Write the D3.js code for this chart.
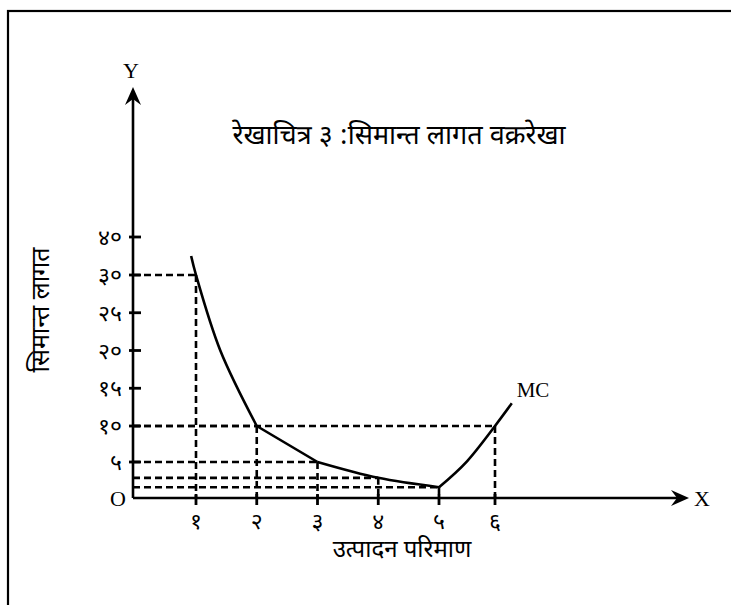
<!DOCTYPE html>
<html><head><meta charset="utf-8">
<script src="https://cdn.jsdelivr.net/npm/d3@7"></script>
<style>body{margin:0;background:#fff}</style>
</head><body>
<script>
// ---- data ----
const quantity = [1, 2, 3, 4, 5, 6];
const mcValues = [30, 10, 5, 2.8, 1.5, 10];
const xTickLabels = ["१", "२", "३", "४", "५", "६"];
const yTicks = [5, 10, 15, 20, 25, 30, 40];
const yTickLabels = ["५", "१०", "१५", "२०", "२५", "३०", "४०"];
const curveFalling = [[0.92, 35], [1, 30], [1.4, 20], [2, 10]];
const curveStep = [[2, 10], [3, 5]];
const curveFlat = [[3, 5], [4, 2.8], [5, 1.5]];
const curveRising = [[5, 1.5], [5.5, 5.1], [6, 10], [6.3, 13]];
const title = "रेखाचित्र ३ :सिमान्त लागत वक्ररेखा";
const xTitle = "उत्पादन परिमाण";
const yTitle = "सिमान्त लागत";
const curveLabel = "MC";

const W = 731, H = 605;
const deva = "'Noto Sans Devanagari','Lohit Devanagari','Noto Sans',sans-serif";
const serif = "'Liberation Serif','DejaVu Serif',serif";

const svg = d3.select("body").append("svg").attr("width", W).attr("height", H);

// frame
svg.append("rect").attr("x", 8).attr("y", 11).attr("width", 760).attr("height", 640)
  .attr("fill", "none").attr("stroke", "#000").attr("stroke-width", 2.2);

const x = d3.scaleLinear().domain([1, 5, 6]).range([196, 439, 495]);
const y = d3.scaleLinear().domain([0, 10, 30, 40]).range([498, 426, 275, 237]);
const x0 = 133, y0 = 498;

// dashed guides
const g = svg.append("g").attr("stroke", "#000").attr("stroke-width", 2.6)
  .attr("stroke-dasharray", "7,4").attr("fill", "none");
quantity.forEach((q, i) => {
  const v = mcValues[i];
  g.append("line").attr("x1", x0).attr("x2", x(q)).attr("y1", y(v)).attr("y2", y(v));
  g.append("line").attr("x1", x(q)).attr("x2", x(q)).attr("y1", y(v)).attr("y2", y0);
});

// axes
svg.append("line").attr("x1", x0).attr("y1", y0).attr("x2", 680).attr("y2", y0)
  .attr("stroke", "#000").attr("stroke-width", 2.6);
svg.append("line").attr("x1", x0).attr("y1", y0).attr("x2", x0).attr("y2", 96)
  .attr("stroke", "#000").attr("stroke-width", 2.6);
// arrowheads
svg.append("path").attr("d", "M689,498 L671,490 L677,498 L671,506 Z").attr("fill", "#000");
svg.append("path").attr("d", "M133,87 L125,105 L133,99 L141,105 Z").attr("fill", "#000");

// ticks
const tk = svg.append("g").attr("stroke", "#000").attr("stroke-width", 2.8);
yTicks.forEach(t => tk.append("line").attr("x1", x0 - 4).attr("x2", x0 + 8).attr("y1", y(t)).attr("y2", y(t)));
quantity.forEach(q => tk.append("line").attr("x1", x(q)).attr("x2", x(q)).attr("y1", y0 - 4).attr("y2", y0 + 7));

// tick labels
svg.append("g").selectAll("text").data(yTicks).join("text")
  .attr("x", 122).attr("y", d => y(d)).attr("dy", "0.35em").attr("text-anchor", "end")
  .attr("font-family", deva).attr("font-size", 23).text((d, i) => yTickLabels[i]);
svg.append("g").selectAll("text").data(quantity).join("text")
  .attr("x", d => x(d)).attr("y", 521).attr("dy", "0.35em").attr("text-anchor", "middle")
  .attr("font-family", deva).attr("font-size", 23).text((d, i) => xTickLabels[i]);

// curve
const smooth = d3.line().x(d => x(d[0])).y(d => y(d[1])).curve(d3.curveCatmullRom.alpha(0.5));
const mono = d3.line().x(d => x(d[0])).y(d => y(d[1])).curve(d3.curveMonotoneX);
const straight = d3.line().x(d => x(d[0])).y(d => y(d[1]));
[[curveFalling, smooth], [curveStep, straight], [curveFlat, mono], [curveRising, mono]].forEach(([c, gen]) =>
  svg.append("path").attr("d", gen(c)).attr("fill", "none").attr("stroke", "#000")
    .attr("stroke-width", 2.6).attr("stroke-linejoin", "round"));

// labels
svg.append("text").attr("x", 118).attr("y", y0).attr("dy", "0.35em").attr("text-anchor", "middle")
  .attr("font-family", serif).attr("font-size", 22).text("O");
svg.append("text").attr("x", 131).attr("y", 70).attr("dy", "0.35em").attr("text-anchor", "middle")
  .attr("font-family", serif).attr("font-size", 22).text("Y");
svg.append("text").attr("x", 702).attr("y", 498).attr("dy", "0.35em").attr("text-anchor", "middle")
  .attr("font-family", serif).attr("font-size", 22).text("X");
svg.append("text").attr("x", 533).attr("y", 390).attr("dy", "0.35em").attr("text-anchor", "middle")
  .attr("font-family", serif).attr("font-size", 21).text(curveLabel);

svg.append("text").attr("x", 399).attr("y", 135).attr("dy", "0.35em").attr("text-anchor", "middle")
  .attr("font-family", deva).attr("font-size", 27).text(title);
svg.append("text").attr("x", 402).attr("y", 549).attr("dy", "0.35em").attr("text-anchor", "middle")
  .attr("font-family", deva).attr("font-size", 24).text(xTitle);
svg.append("text").attr("transform", "translate(40,310) rotate(-90)").attr("dy", "0.35em")
  .attr("text-anchor", "middle").attr("font-family", deva).attr("font-size", 25).text(yTitle);
</script>
</body></html>
